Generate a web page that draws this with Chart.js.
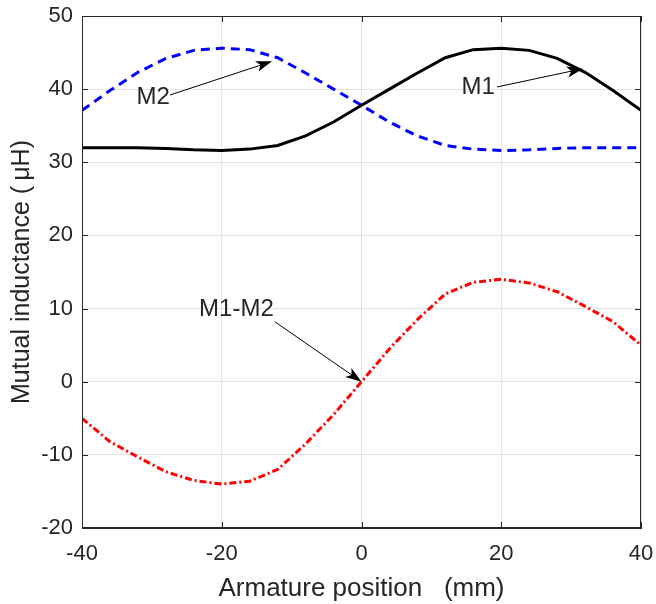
<!DOCTYPE html>
<html>
<head>
<meta charset="utf-8">
<script src="https://cdn.jsdelivr.net/npm/chart.js@4"></script>
<style>
  html, body { margin: 0; padding: 0; background: #fff; }
  #wrap { width: 656px; height: 604px; }
</style>
</head>
<body>
<div id="wrap"><canvas id="myChart" width="656" height="604"></canvas></div>
<script>
// armature position (mm)
const positions = [-40, -36, -32, -28, -24, -20, -16, -12, -8, -4, 0, 4, 8, 12, 16, 20, 24, 28, 32, 36, 40];
// mutual inductance (uH)
const m1 = [32.0, 32.0, 32.0, 31.9, 31.7, 31.6, 31.8, 32.3, 33.6, 35.5, 37.8, 40.0, 42.2, 44.3, 45.4, 45.6, 45.3, 44.2, 42.3, 39.8, 37.1];
const m2 = [37.1, 39.8, 42.3, 44.2, 45.3, 45.6, 45.4, 44.3, 42.2, 40.0, 37.8, 35.5, 33.6, 32.3, 31.8, 31.6, 31.7, 31.9, 32.0, 32.0, 32.0];
const diff = [-5.0, -8.2, -10.3, -12.3, -13.5, -14.0, -13.6, -12.0, -8.5, -4.5, 0.0, 4.5, 8.5, 12.0, 13.6, 14.0, 13.5, 12.3, 10.3, 8.2, 5.0];
const xTicks = [-40, -20, 0, 20, 40];
const yTicks = [-20, -10, 0, 10, 20, 30, 40, 50];

// text labels with arrows, in data units
const notes = [
    { text: 'M2', tx: -29.8, ty: 39.0, from: [-27.4, 39.2], to: [-12.8, 43.8] },
    { text: 'M1', tx: 16.7, ty: 40.4, from: [19.4, 40.3], to: [31.7, 42.8] },
    { text: 'M1-M2', tx: -17.9, ty: 10.0, from: [-12.4, 8.2], to: [0.0, 0.0] }
];

const FONT = '"Liberation Sans", Arial, sans-serif';
const TEXT = '#262626';

function pts(ys) {
    return positions.map((x, i) => ({ x: x, y: ys[i] }));
}

const annotate = {
    id: 'annotate',
    afterDatasetsDraw(chart) {
        const ctx = chart.ctx;
        const xs = chart.scales.x, ys = chart.scales.y;
        const a = chart.chartArea;
        ctx.save();
        // frame
        ctx.strokeStyle = TEXT;
        ctx.lineWidth = 1;
        ctx.strokeRect(a.left + 0.5, a.top + 0.5, a.right - a.left - 1, a.bottom - a.top - 1);
        // inward ticks
        ctx.beginPath();
        xTicks.forEach(v => {
            const px = Math.round(xs.getPixelForValue(v)) + 0.5;
            ctx.moveTo(px, a.bottom); ctx.lineTo(px, a.bottom - 6);
            ctx.moveTo(px, a.top); ctx.lineTo(px, a.top + 6);
        });
        yTicks.forEach(v => {
            const py = Math.round(ys.getPixelForValue(v)) + 0.5;
            ctx.moveTo(a.left, py); ctx.lineTo(a.left + 6, py);
            ctx.moveTo(a.right, py); ctx.lineTo(a.right - 6, py);
        });
        ctx.stroke();
        // notes
        notes.forEach(n => {
            ctx.fillStyle = TEXT;
            ctx.font = '24px ' + FONT;
            ctx.textAlign = 'center';
            ctx.textBaseline = 'middle';
            ctx.fillText(n.text, xs.getPixelForValue(n.tx), ys.getPixelForValue(n.ty) + 1);
            const x0 = xs.getPixelForValue(n.from[0]), y0 = ys.getPixelForValue(n.from[1]);
            const x1 = xs.getPixelForValue(n.to[0]), y1 = ys.getPixelForValue(n.to[1]);
            const ang = Math.atan2(y1 - y0, x1 - x0);
            ctx.strokeStyle = '#000';
            ctx.lineWidth = 1;
            ctx.beginPath();
            ctx.moveTo(x0, y0);
            ctx.lineTo(x1 - 10 * Math.cos(ang), y1 - 10 * Math.sin(ang));
            ctx.stroke();
            ctx.fillStyle = '#000';
            ctx.beginPath();
            ctx.moveTo(x1, y1);
            ctx.lineTo(x1 - 17 * Math.cos(ang - 0.33), y1 - 17 * Math.sin(ang - 0.33));
            ctx.lineTo(x1 - 12 * Math.cos(ang), y1 - 12 * Math.sin(ang));
            ctx.lineTo(x1 - 17 * Math.cos(ang + 0.33), y1 - 17 * Math.sin(ang + 0.33));
            ctx.closePath();
            ctx.fill();
        });
        ctx.restore();
    }
};

const ctx = document.getElementById('myChart').getContext('2d');
new Chart(ctx, {
    type: 'line',
    data: {
        datasets: [
            {
                label: 'M1',
                data: pts(m1),
                borderColor: '#000000',
                borderWidth: 3,
                pointRadius: 0,
                tension: 0
            },
            {
                label: 'M2',
                data: pts(m2),
                borderColor: '#0000ff',
                borderWidth: 3,
                borderDash: [9, 6],
                pointRadius: 0,
                tension: 0
            },
            {
                label: 'M1-M2',
                data: pts(diff),
                borderColor: '#ff0000',
                borderWidth: 3,
                borderDash: [7, 3, 2, 3],
                pointRadius: 0,
                tension: 0
            }
        ]
    },
    options: {
        responsive: false,
        animation: false,
        layout: { padding: { top: 16, right: 15, left: 0, bottom: 0 } },
        plugins: { legend: { display: false }, tooltip: { enabled: false } },
        scales: {
            x: {
                type: 'linear',
                min: -40, max: 40,
                afterBuildTicks: s => { s.ticks = xTicks.map(v => ({ value: v })); },
                afterFit: s => { s.height = 76; s.paddingLeft = 0; s.paddingRight = 0; },
                grid: { color: '#e3e3e3', drawTicks: false },
                border: { color: TEXT },
                ticks: { color: TEXT, font: { family: FONT, size: 22 }, padding: 13, maxRotation: 0 },
                title: { display: true, text: 'Armature position   (mm)', color: TEXT, font: { family: FONT, size: 26 }, padding: { top: 0, bottom: 0 } }
            },
            y: {
                min: -20, max: 50,
                afterBuildTicks: s => { s.ticks = yTicks.map(v => ({ value: v })); },
                afterFit: s => { s.width = 82; s.paddingTop = 0; s.paddingBottom = 0; },
                grid: { color: '#e3e3e3', drawTicks: false },
                border: { color: TEXT },
                ticks: { color: TEXT, font: { family: FONT, size: 22 }, padding: 9 },
                title: { display: true, text: 'Mutual inductance (\u2009μH)', color: TEXT, font: { family: FONT, size: 25 }, padding: { bottom: 0, top: 7 } }
            }
        }
    },
    plugins: [annotate]
});
</script>
</body>
</html>
